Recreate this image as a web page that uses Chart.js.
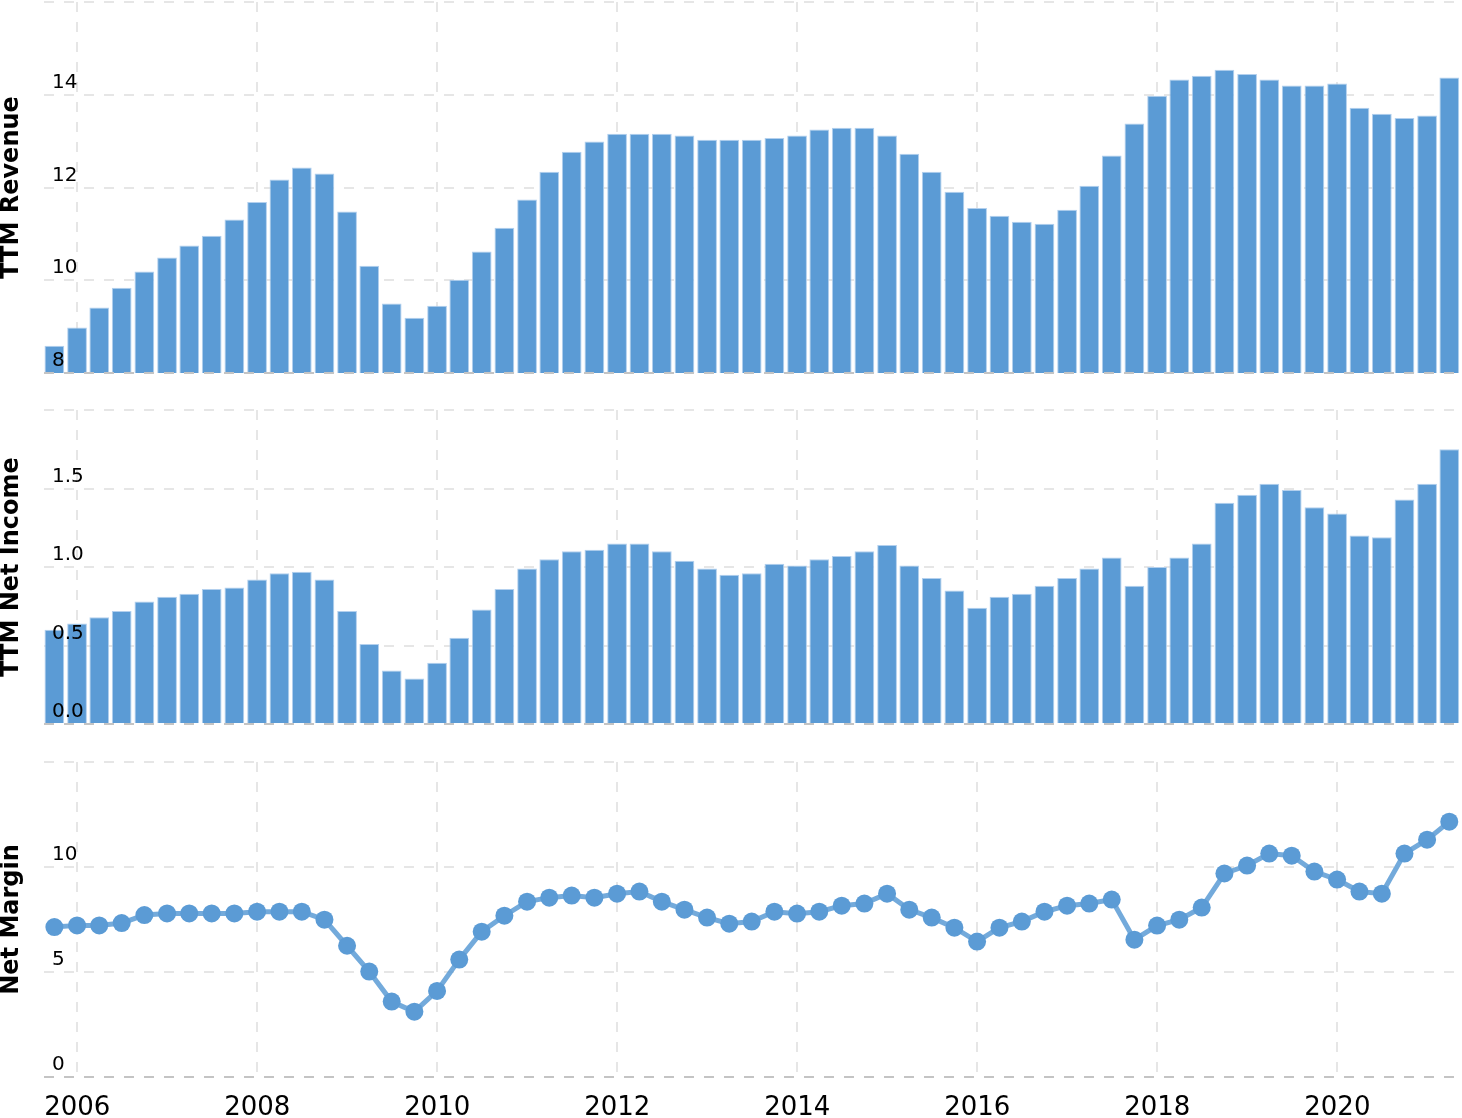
<!DOCTYPE html>
<html>
<head>
<meta charset="utf-8">
<script src="https://cdn.jsdelivr.net/npm/chart.js@4"></script>
<style>
  html, body { margin: 0; padding: 0; background: #fff; overflow: hidden; }
  .panel { position: absolute; left: 0; width: 1462px; }
  #p1 { top: 0; height: 374px; }
  #p2 { top: 405px; height: 320px; }
  #p3 { top: 757px; height: 382px; }
</style>
</head>
<body>
<div class="panel" id="p1"><canvas id="revenueChart"></canvas></div>
<div class="panel" id="p2"><canvas id="incomeChart"></canvas></div>
<div class="panel" id="p3"><canvas id="marginChart"></canvas></div>
<script>
// Quarter ends, Q3 2005 .. Q1 2021
const quarters = [];
for (let y = 2005; y <= 2021; y++) {
  ['03-31', '06-30', '09-30', '12-31'].forEach(md => {
    const d = `${y}-${md}`;
    if (d >= '2005-09-30' && d <= '2021-03-31') quarters.push(d);
  });
}

// TTM revenue (billions)
const revenue = [
  8.59, 8.98, 9.41, 9.84, 10.19, 10.49, 10.75, 10.96, 11.31, 11.69,
  12.17, 12.43, 12.30, 11.48, 10.31, 9.50, 9.19, 9.45, 10.01, 10.62,
  11.13, 11.74, 12.34, 12.77, 12.99, 13.16, 13.16, 13.16, 13.12, 13.03,
  13.03, 13.03, 13.07, 13.12, 13.25, 13.29, 13.29, 13.12, 12.73, 12.34,
  11.91, 11.56, 11.39, 11.26, 11.22, 11.52, 12.04, 12.69, 13.38, 13.98,
  14.33, 14.41, 14.54, 14.45, 14.33, 14.20, 14.20, 14.24, 13.72, 13.59,
  13.50, 13.55, 14.37
];

// TTM net income (billions)
const netIncome = [
  0.60, 0.64, 0.68, 0.72, 0.78, 0.81, 0.83, 0.86, 0.87, 0.92,
  0.96, 0.97, 0.92, 0.72, 0.51, 0.34, 0.29, 0.39, 0.55, 0.73,
  0.86, 0.99, 1.05, 1.10, 1.11, 1.15, 1.15, 1.10, 1.04, 0.99,
  0.95, 0.96, 1.02, 1.01, 1.05, 1.07, 1.10, 1.14, 1.01, 0.93,
  0.85, 0.74, 0.81, 0.83, 0.88, 0.93, 0.99, 1.06, 0.88, 1.00,
  1.06, 1.15, 1.41, 1.46, 1.53, 1.49, 1.38, 1.34, 1.20, 1.19,
  1.43, 1.53, 1.75
];

// Net margin (%)
const netMargin = [
  7.14, 7.22, 7.22, 7.33, 7.71, 7.79, 7.79, 7.79, 7.79, 7.87,
  7.87, 7.87, 7.49, 6.25, 5.02, 3.59, 3.11, 4.10, 5.59, 6.92,
  7.68, 8.35, 8.54, 8.64, 8.54, 8.73, 8.83, 8.35, 7.97, 7.59,
  7.30, 7.40, 7.87, 7.78, 7.87, 8.16, 8.26, 8.73, 7.97, 7.59,
  7.11, 6.45, 7.11, 7.40, 7.87, 8.16, 8.26, 8.45, 6.54, 7.21,
  7.49, 8.07, 9.69, 10.07, 10.64, 10.54, 9.78, 9.40, 8.83, 8.73,
  10.64, 11.30, 12.16
];

const yearTicks = [2006, 2008, 2010, 2012, 2014, 2016, 2018, 2020];
const revenueTicks = [8, 10, 12, 14, 16];
const incomeTicks = [0, 0.5, 1.0, 1.5, 2.0];
const marginTicks = [0, 5, 10, 15];

const xMin = 2005.63;
const xMax = 2021.374;

const BLUE = '#5b9bd5';
const GRID = '#e6e6e6';
const DASH = [10, 10];

// decimal year from a date string
function toYear(dateStr) {
  const d = new Date(dateStr + 'T00:00:00Z');
  const start = Date.UTC(d.getUTCFullYear(), 0, 1);
  const end = Date.UTC(d.getUTCFullYear() + 1, 0, 1);
  return d.getUTCFullYear() + (d - start) / (end - start);
}
const xs = quarters.map(toYear);

function points(values) {
  return values.map((v, i) => ({ x: xs[i], y: v }));
}

// keep the chart area edge to edge, labels are drawn inside it
function noPadding(axis) {
  axis.paddingTop = 0;
  axis.paddingBottom = 0;
  axis.paddingLeft = 0;
  axis.paddingRight = 0;
}

function xAxis(showLabels) {
  return {
    type: 'linear',
    min: xMin,
    max: xMax,
    offset: false,
    afterBuildTicks: axis => { axis.ticks = yearTicks.map(v => ({ value: v })); },
    afterFit: noPadding,
    grid: { color: GRID, lineWidth: 2, drawTicks: false, offset: false },
    border: { display: false, dash: DASH },
    ticks: {
      display: showLabels,
      autoSkip: false,
      maxRotation: 0,
      padding: 18,
      color: '#000',
      font: { family: 'DejaVu Sans', size: 26, lineHeight: 1 },
      callback: v => String(v)
    }
  };
}

function yAxis(title, tickValues, decimals) {
  return {
    min: tickValues[0],
    max: tickValues[tickValues.length - 1],
    afterBuildTicks: axis => { axis.ticks = tickValues.map(v => ({ value: v })); },
    afterFit: noPadding,
    grid: { color: GRID, lineWidth: 2, drawTicks: false },
    border: { display: false, dash: DASH },
    title: {
      display: true,
      text: title,
      color: '#000',
      padding: { top: 0, bottom: 4 },
      font: { family: 'DejaVu Sans', size: 24, weight: 'bold', lineHeight: 1 }
    },
    ticks: {
      mirror: true,
      padding: 8,
      labelOffset: -12,
      z: 1,
      color: '#000',
      font: { family: 'DejaVu Sans', size: 20 },
      callback: (v, i) => (i === tickValues.length - 1 ? '' : v.toFixed(decimals))
    }
  };
}

// darker dashed base line drawn over the marks
const baseLine = {
  id: 'baseLine',
  afterDatasetsDraw(chart) {
    const { ctx, chartArea } = chart;
    ctx.save();
    ctx.strokeStyle = '#c4c4c4';
    ctx.lineWidth = 2;
    ctx.setLineDash(DASH);
    ctx.beginPath();
    ctx.moveTo(chartArea.left, chartArea.bottom);
    ctx.lineTo(chartArea.right, chartArea.bottom);
    ctx.stroke();
    ctx.restore();
  }
};

function barChart(canvasId, title, values, tickValues, decimals, pad) {
  return new Chart(document.getElementById(canvasId), {
    type: 'bar',
    data: {
      datasets: [{
        data: points(values),
        backgroundColor: BLUE,
        borderColor: '#b3d0ee',
        borderWidth: 1,
        categoryPercentage: 1,
        barPercentage: 0.89
      }]
    },
    options: {
      responsive: true,
      maintainAspectRatio: false,
      animation: false,
      layout: { autoPadding: false, padding: { top: pad, bottom: 1, left: 0, right: 1 } },
      plugins: { legend: { display: false }, tooltip: { enabled: false } },
      scales: { x: xAxis(false), y: yAxis(title, tickValues, decimals) }
    },
    plugins: [baseLine]
  });
}

barChart('revenueChart', 'TTM Revenue', revenue, revenueTicks, 0, 2);
barChart('incomeChart', 'TTM Net Income', netIncome, incomeTicks, 1, 5);

new Chart(document.getElementById('marginChart'), {
  type: 'line',
  data: {
    datasets: [{
      data: points(netMargin),
      borderColor: 'rgba(91,155,213,0.85)',
      borderWidth: 5,
      tension: 0,
      pointRadius: 9,
      pointBackgroundColor: BLUE,
      pointBorderWidth: 0,
      fill: false
    }]
  },
  options: {
    responsive: true,
    maintainAspectRatio: false,
    animation: false,
    layout: { autoPadding: false, padding: { top: 5, bottom: 0, left: 0, right: 1 } },
    plugins: { legend: { display: false }, tooltip: { enabled: false } },
    scales: { x: xAxis(true), y: yAxis('Net Margin', marginTicks, 0) }
  },
  plugins: [baseLine]
});
</script>
</body>
</html>
